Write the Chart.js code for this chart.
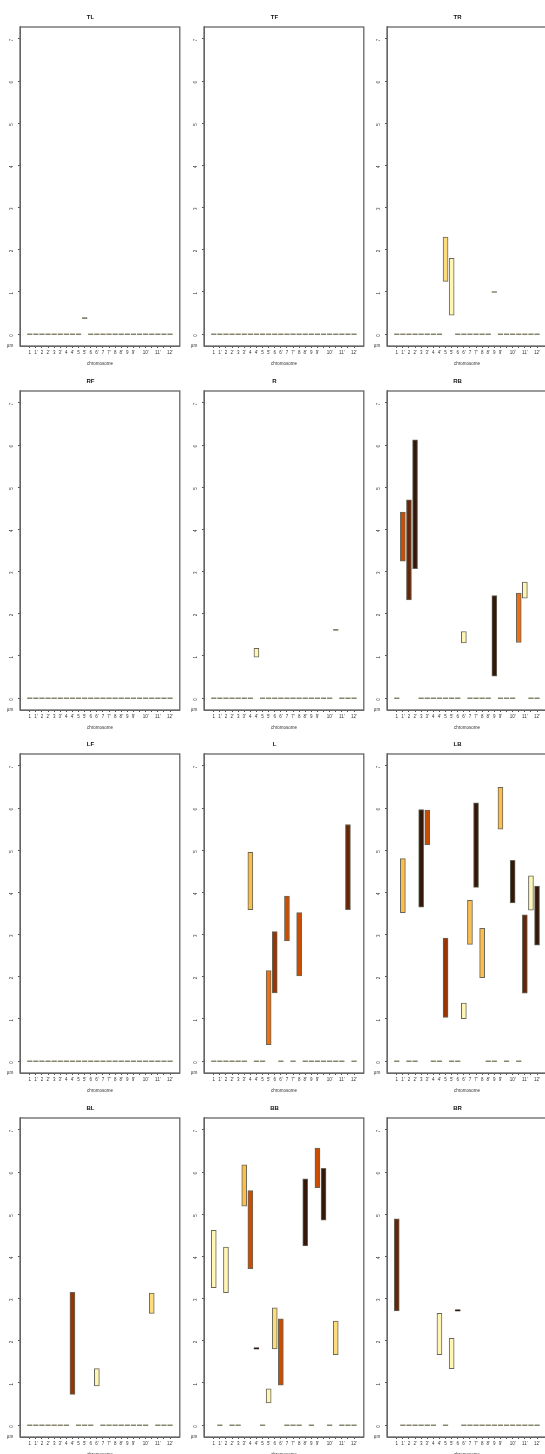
<!DOCTYPE html>
<html>
<head>
<meta charset="utf-8">
<title>chromosome ranges</title>
<script src="https://cdn.jsdelivr.net/npm/chart.js@4.4.1/dist/chart.umd.min.js"></script>
<style>
  html, body { margin: 0; padding: 0; background: #fff; overflow: hidden; width: 545px; height: 1454px; }
  canvas.panel { position: absolute; }
</style>
</head>
<body>
<script>
// categories and tick labels
const chromosomes = ['1', "1'", '2', "2'", '3', "3'", '4', "4'", '5', "5'", '6', "6'",
                     '7', "7'", '8', "8'", '9', "9'", '10', "10'", '11', "11'", '12', "12'"];
const skippedLabels = ['10', '11', '12'];   // labels R dropped because they overlap
const yTicks = [0, 1, 2, 3, 4, 5, 6, 7];

// per panel: low end, high end (µm) and colour class of each chromosome
const zeros = [0, 0, 0, 0, 0, 0, 0, 0, 0, 0, 0, 0, 0, 0, 0, 0, 0, 0, 0, 0, 0, 0, 0, 0];
const ones  = [1, 1, 1, 1, 1, 1, 1, 1, 1, 1, 1, 1, 1, 1, 1, 1, 1, 1, 1, 1, 1, 1, 1, 1];

const tlLow  = [0, 0, 0, 0, 0, 0, 0, 0, 0, 0.38, 0, 0, 0, 0, 0, 0, 0, 0, 0, 0, 0, 0, 0, 0];
const tlHigh = [0, 0, 0, 0, 0, 0, 0, 0, 0, 0.38, 0, 0, 0, 0, 0, 0, 0, 0, 0, 0, 0, 0, 0, 0];
const tlTone = ones;

const tfLow = zeros, tfHigh = zeros, tfTone = ones;

const trLow  = [0, 0, 0, 0, 0, 0, 0, 0, 1.25, 0.45, 0, 0, 0, 0, 0, 0, 1.00, 0, 0, 0, 0, 0, 0, 0];
const trHigh = [0, 0, 0, 0, 0, 0, 0, 0, 2.30, 1.80, 0, 0, 0, 0, 0, 0, 1.00, 0, 0, 0, 0, 0, 0, 0];
const trTone = [1, 1, 1, 1, 1, 1, 1, 1, 2, 1, 1, 1, 1, 1, 1, 1, 1, 1, 1, 1, 1, 1, 1, 1];

const rfLow = zeros, rfHigh = zeros, rfTone = ones;

const rLow  = [0, 0, 0, 0, 0, 0, 0, 0.97, 0, 0, 0, 0, 0, 0, 0, 0, 0, 0, 0, 0, 1.62, 0, 0, 0];
const rHigh = [0, 0, 0, 0, 0, 0, 0, 1.18, 0, 0, 0, 0, 0, 0, 0, 0, 0, 0, 0, 0, 1.62, 0, 0, 0];
const rTone = ones;

const rbLow  = [0, 3.25, 2.33, 3.07, 0, 0, 0, 0, 0, 0, 0, 1.31, 0, 0, 0, 0, 0.52, 0, 0, 0, 1.32, 2.37, 0, 0];
const rbHigh = [0, 4.41, 4.70, 6.12, 0, 0, 0, 0, 0, 0, 0, 1.58, 0, 0, 0, 0, 2.43, 0, 0, 0, 2.49, 2.75, 0, 0];
const rbTone = [1, 5, 7, 8, 1, 1, 1, 1, 1, 1, 1, 1, 1, 1, 1, 1, 8, 1, 1, 1, 4, 1, 1, 1];

const lfLow = zeros, lfHigh = zeros, lfTone = ones;

const lLow  = [0, 0, 0, 0, 0, 0, 3.59, 0, 0, 0.39, 1.62, 0, 2.85, 0, 2.02, 0, 0, 0, 0, 0, 0, 0, 3.59, 0];
const lHigh = [0, 0, 0, 0, 0, 0, 4.95, 0, 0, 2.15, 3.07, 0, 3.91, 0, 3.52, 0, 0, 0, 0, 0, 0, 0, 5.61, 0];
const lTone = [1, 1, 1, 1, 1, 1, 3, 1, 1, 4, 6, 1, 5, 1, 5, 1, 1, 1, 1, 1, 1, 1, 7, 1];

const lbLow  = [0, 3.52, 0, 0, 3.65, 5.13, 0, 0, 1.04, 0, 0, 1.01, 2.77, 4.12, 1.98, 0, 0, 5.50, 0, 3.75, 0, 1.61, 3.58, 2.75];
const lbHigh = [0, 4.80, 0, 0, 5.96, 5.95, 0, 0, 2.92, 0, 0, 1.38, 3.81, 6.12, 3.15, 0, 0, 6.49, 0, 4.76, 0, 3.47, 4.39, 4.15];
const lbTone = [1, 3, 1, 1, 8, 5, 1, 1, 6, 1, 1, 1, 3, 8, 3, 1, 1, 3, 1, 8, 1, 7, 1, 8];

const blLow  = [0, 0, 0, 0, 0, 0, 0, 0.73, 0, 0, 0, 0.93, 0, 0, 0, 0, 0, 0, 0, 0, 2.65, 0, 0, 0];
const blHigh = [0, 0, 0, 0, 0, 0, 0, 3.15, 0, 0, 0, 1.34, 0, 0, 0, 0, 0, 0, 0, 0, 3.13, 0, 0, 0];
const blTone = [1, 1, 1, 1, 1, 1, 1, 6, 1, 1, 1, 1, 1, 1, 1, 1, 1, 1, 1, 1, 2, 1, 1, 1];

const bbLow  = [3.26, 0, 3.14, 0, 0, 5.19, 3.71, 1.82, 0, 0.53, 1.81, 0.95, 0, 0, 0, 4.25, 0, 5.63, 4.86, 0, 1.67, 0, 0, 0];
const bbHigh = [4.62, 0, 4.22, 0, 0, 6.17, 5.56, 1.82, 0, 0.86, 2.78, 2.52, 0, 0, 0, 5.84, 0, 6.57, 6.09, 0, 2.47, 0, 0, 0];
const bbTone = [1, 1, 1, 1, 1, 3, 5, 8, 1, 1, 2, 5, 1, 1, 1, 8, 1, 5, 8, 1, 2, 1, 1, 1];

const brLow  = [2.71, 0, 0, 0, 0, 0, 0, 1.67, 0, 1.34, 2.72, 0, 0, 0, 0, 0, 0, 0, 0, 0, 0, 0, 0, 0];
const brHigh = [4.89, 0, 0, 0, 0, 0, 0, 2.65, 0, 2.06, 2.72, 0, 0, 0, 0, 0, 0, 0, 0, 0, 0, 0, 0, 0];
const brTone = [7, 1, 1, 1, 1, 1, 1, 1, 1, 1, 8, 1, 1, 1, 1, 1, 1, 1, 1, 1, 1, 1, 1, 1];

const panels = [
  ['TL', tlLow, tlHigh, tlTone], ['TF', tfLow, tfHigh, tfTone], ['TR', trLow, trHigh, trTone],
  ['RF', rfLow, rfHigh, rfTone], ['R', rLow, rHigh, rTone],     ['RB', rbLow, rbHigh, rbTone],
  ['LF', lfLow, lfHigh, lfTone], ['L', lLow, lHigh, lTone],     ['LB', lbLow, lbHigh, lbTone],
  ['BL', blLow, blHigh, blTone], ['BB', bbLow, bbHigh, bbTone], ['BR', brLow, brHigh, brTone]
];

// colour per class (yellow -> dark brown)
const toneColors = [null, '#fff5b5', '#fedc7c', '#fbbd4c', '#ec7014', '#cc4c02', '#993404', '#662506', '#33180a'];
const font = 'Liberation Sans, Arial, sans-serif';

// box round the plot and the unit label
const framePlugin = {
  id: 'frame',
  afterDraw(chart) {
    const { ctx, chartArea: a } = chart;
    ctx.save();
    ctx.strokeStyle = '#666';
    ctx.lineWidth = 1.3;
    ctx.strokeRect(a.left, a.top, a.right - a.left, a.bottom - a.top);
    ctx.fillStyle = '#333';
    ctx.font = '4.6px ' + font;
    ctx.textAlign = 'center';
    ctx.textBaseline = 'middle';
    ctx.fillText('µm', a.left - 10, a.bottom);
    ctx.restore();
  }
};

function makePanel(name, low, high, tone, col, row) {
  const canvas = document.createElement('canvas');
  canvas.className = 'panel';
  canvas.width = 184;
  canvas.height = 376;
  canvas.style.width = '184px';
  canvas.style.height = '376px';
  canvas.style.left = Math.round(col * 183.5) + 'px';
  canvas.style.top = Math.round(row * 363.5) + 'px';
  document.body.appendChild(canvas);

  const bars = [], barColors = [], dashes = [], dashColors = [];
  chromosomes.forEach((c, i) => {
    if (high[i] > low[i]) {
      bars.push({ x: i + 1, y: [low[i], high[i]] });
      barColors.push(toneColors[tone[i]]);
    } else {
      dashes.push({ x: i + 1, y: low[i] });
      dashColors.push(tone[i] >= 6 ? '#2b1b12' : '#86856c');
    }
  });

  new Chart(canvas, {
    type: 'bar',
    data: {
      datasets: [
        {
          type: 'scatter',
          data: dashes,
          pointStyle: 'line',
          pointRadius: 2.6,
          pointHoverRadius: 2.6,
          pointBorderColor: dashColors,
          pointBorderWidth: 1.6,
          borderColor: dashColors
        },
        {
          data: bars,
          backgroundColor: barColors,
          borderColor: '#66665a',
          borderWidth: 1,
          borderSkipped: false,
          barThickness: 5,
          grouped: false
        }
      ]
    },
    options: {
      responsive: false,
      animation: false,
      devicePixelRatio: 1,
      layout: { padding: { left: 0, right: 3, top: 0, bottom: 0 } },
      plugins: {
        legend: { display: false },
        tooltip: { enabled: false },
        title: {
          display: true,
          text: name,
          color: '#111',
          font: { family: font, size: 6, weight: 'bold' },
          padding: { top: 13.7, bottom: 6.1 }
        }
      },
      scales: {
        x: {
          type: 'linear',
          min: -0.6,
          max: 25.6,
          offset: false,
          afterBuildTicks: s => { s.ticks = chromosomes.map((c, i) => ({ value: i + 1 })); },
          afterFit: s => { s.height = 30; },
          ticks: {
            autoSkip: false,
            minRotation: 0,
            maxRotation: 0,
            padding: 2,
            color: '#333',
            font: { family: font, size: 4.5 },
            callback: v => {
              const lab = chromosomes[Math.round(v) - 1];
              return skippedLabels.includes(lab) ? '' : lab;
            }
          },
          grid: { drawOnChartArea: false, drawTicks: true, tickLength: 2, color: '#555', offset: false },
          border: { display: true, color: '#666', width: 1 },
          title: {
            display: true,
            text: 'chromosome',
            color: '#333',
            font: { family: font, size: 4.5 },
            padding: { top: 0, bottom: 9.8 }
          }
        },
        y: {
          type: 'linear',
          min: -0.28,
          max: 7.28,
          afterBuildTicks: s => { s.ticks = yTicks.map(v => ({ value: v })); },
          afterFit: s => { s.width = 20; },
          ticks: {
            minRotation: 90,
            maxRotation: 90,
            padding: 6,
            color: '#333',
            font: { family: font, size: 4.5 }
          },
          grid: { drawOnChartArea: false, drawTicks: true, tickLength: 2, color: '#555' },
          border: { display: true, color: '#666', width: 1 }
        }
      }
    },
    plugins: [framePlugin]
  });
}

panels.forEach((p, k) => makePanel(p[0], p[1], p[2], p[3], k % 3, Math.floor(k / 3)));
</script>
</body>
</html>
